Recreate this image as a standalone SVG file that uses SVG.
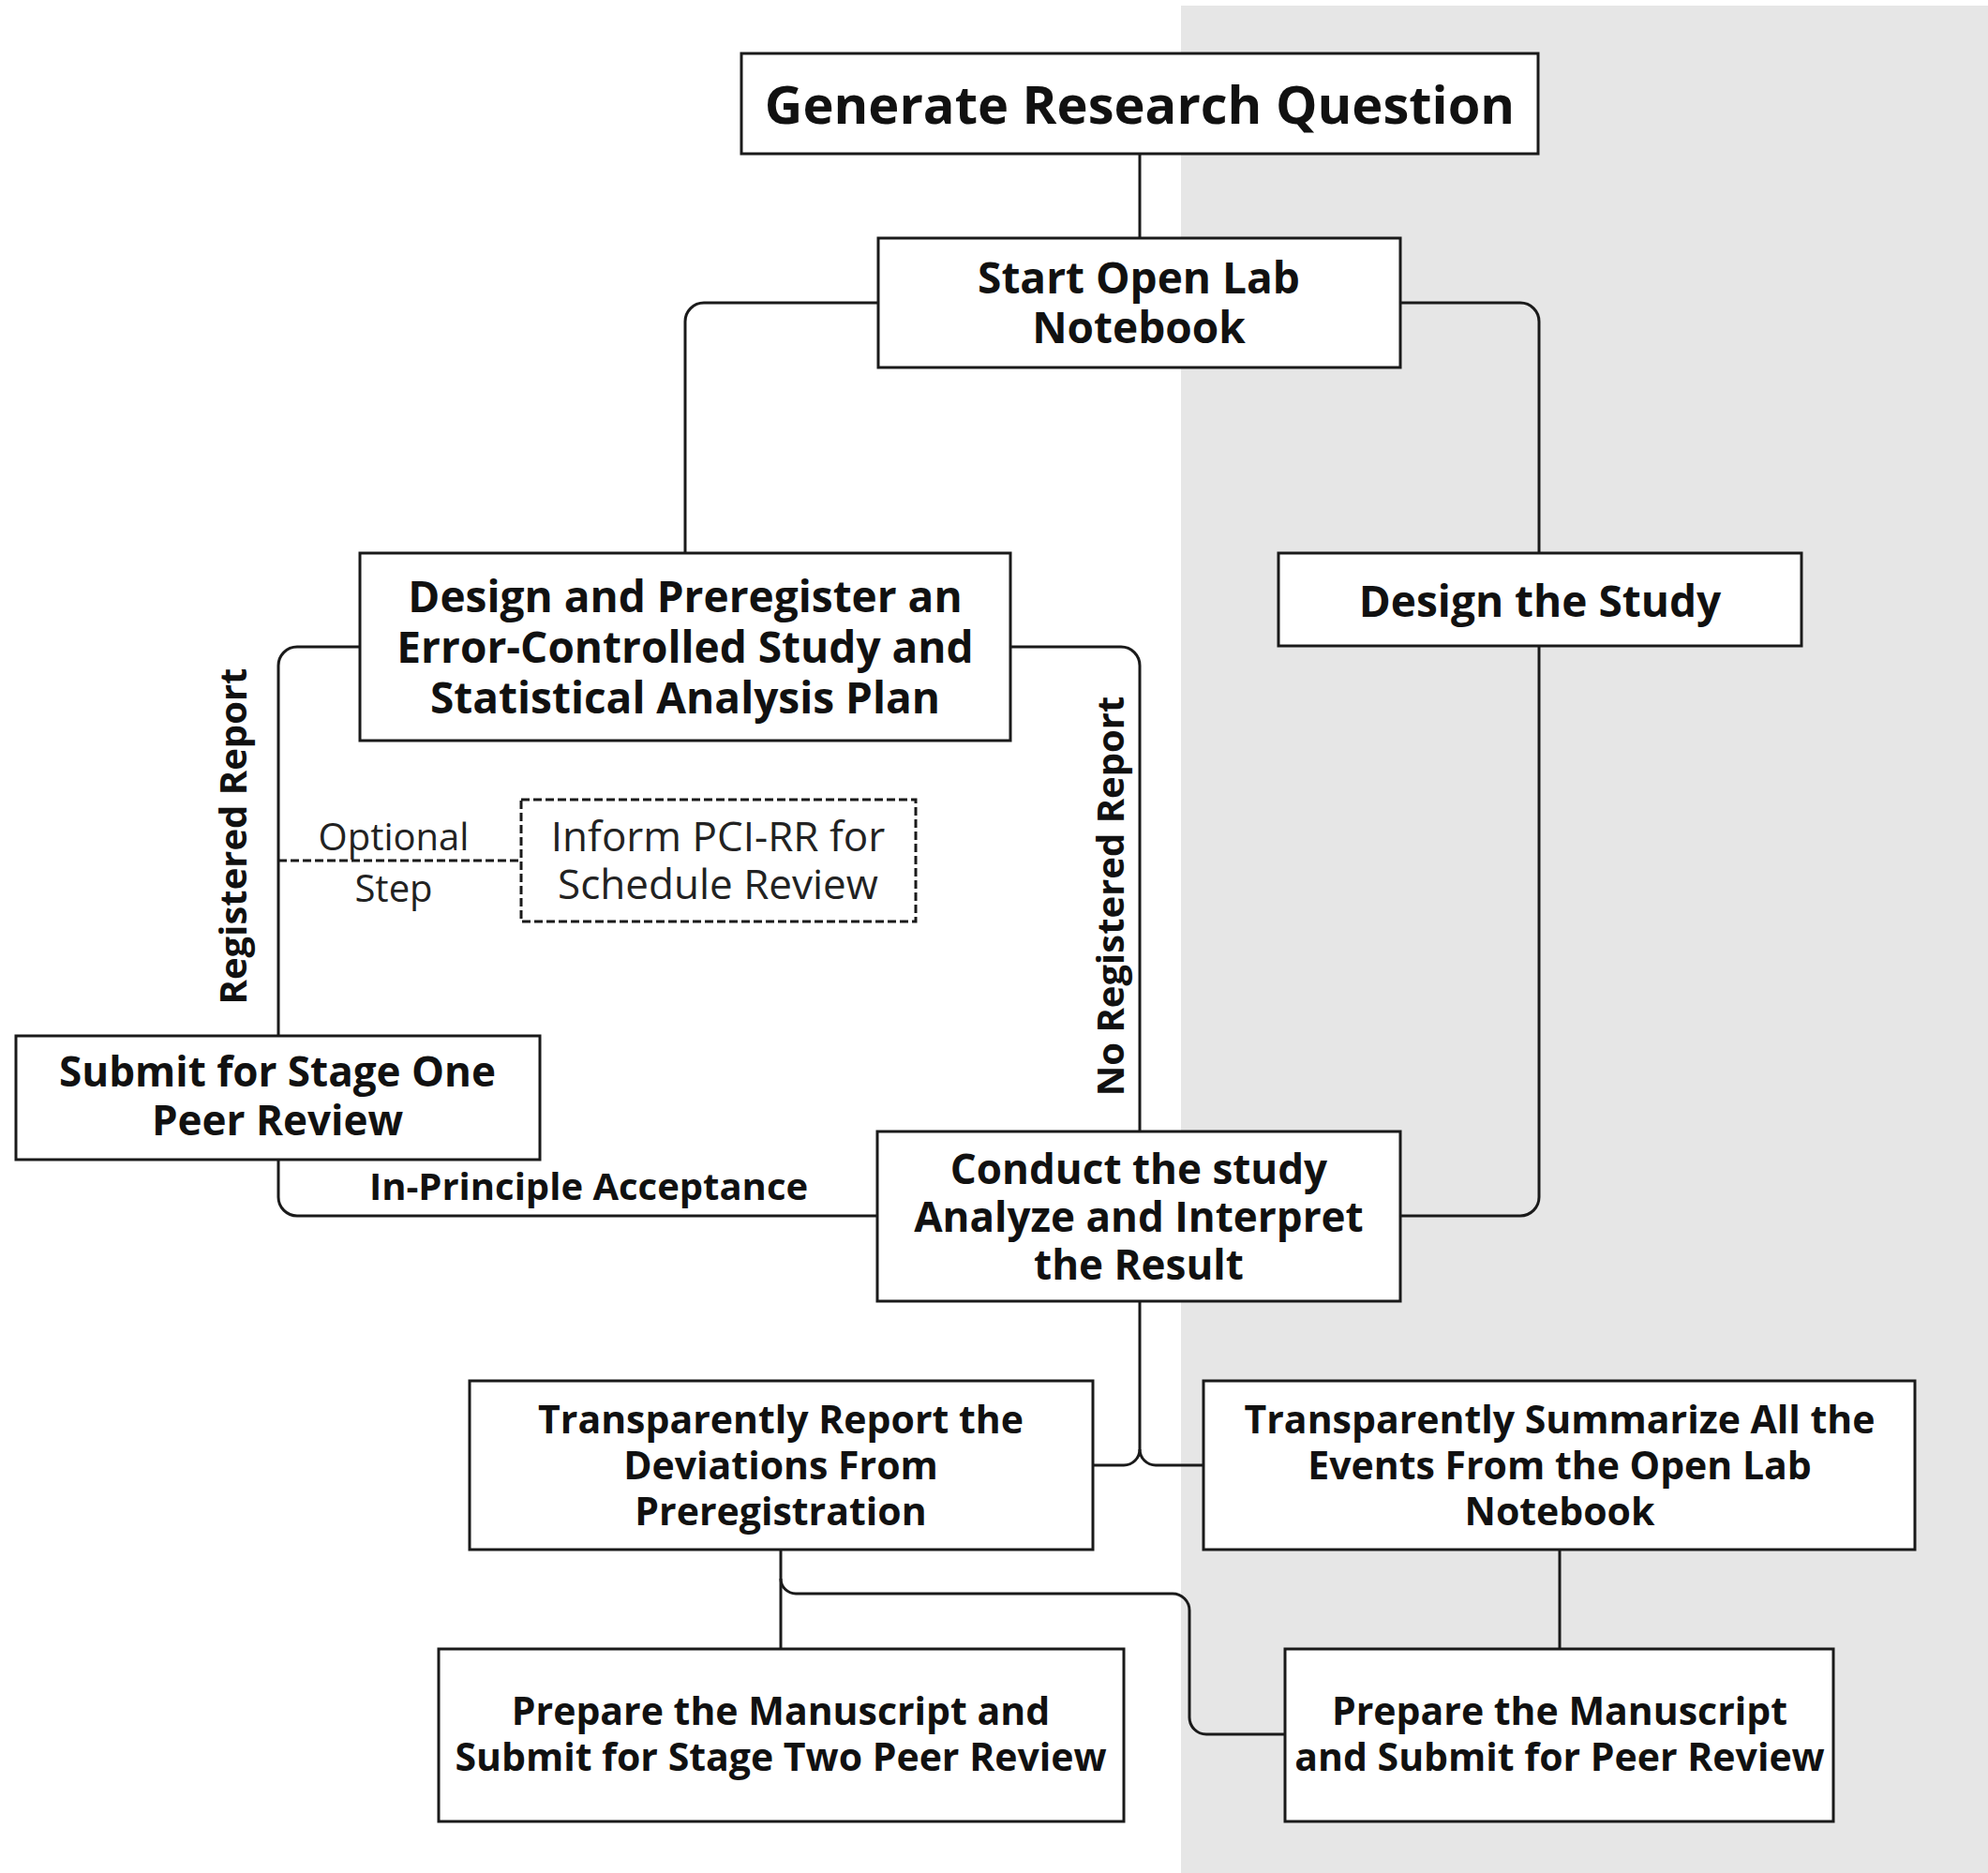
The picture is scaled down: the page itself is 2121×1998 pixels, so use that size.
<svg xmlns="http://www.w3.org/2000/svg" width="2121" height="1998" viewBox="0 0 2121 1998">
<style>
.box{fill:#fff;stroke:#1a1a1a;stroke-width:3}
.dbox{fill:#fff;stroke:#1a1a1a;stroke-width:3;stroke-dasharray:9,4}
.c{fill:none;stroke:#1a1a1a;stroke-width:3}
.d{fill:none;stroke:#1a1a1a;stroke-width:3;stroke-dasharray:9,4}
.t{font-family:"Open Sans","Noto Sans","Liberation Sans",sans-serif;font-weight:700;fill:#111;text-anchor:middle}
.r{font-family:"Open Sans","Noto Sans","Liberation Sans",sans-serif;font-weight:400;fill:#222;text-anchor:middle}
</style>
<rect x="0" y="0" width="2121" height="1998" fill="#fff"/>
<rect x="1260" y="6" width="861" height="1992" fill="#e6e6e6"/>
<g id="connectors">
<path class="c" d="M1216,164 V254"/>
<path class="c" d="M937,323 H751 A20,20 0 0 0 731,343 V590"/>
<path class="c" d="M1494,323 H1622 A20,20 0 0 1 1642,343 V590"/>
<path class="c" d="M1642,689 V1277 A20,20 0 0 1 1622,1297 H1494"/>
<path class="c" d="M384,690 H317 A20,20 0 0 0 297,710 V1105"/>
<path class="c" d="M1078,690 H1196 A20,20 0 0 1 1216,710 V1207"/>
<path class="c" d="M297,1237 V1277 A20,20 0 0 0 317,1297 H936"/>
<path class="d" d="M297,918 H556"/>
<path class="c" d="M1216,1388 V1546 A17,17 0 0 1 1199,1563 H1166"/>
<path class="c" d="M1216,1546 A17,17 0 0 0 1233,1563 H1284"/>
<path class="c" d="M833,1653 V1759"/>
<path class="c" d="M833,1684 A16,16 0 0 0 849,1700 H1251 A18,18 0 0 1 1269,1718 V1832 A18,18 0 0 0 1287,1850 H1371"/>
<path class="c" d="M1664,1653 V1759"/>
<text class="t" font-size="40" transform="translate(263,892) rotate(-90)">Registered Report</text>
<text class="t" font-size="40" transform="translate(1199,956) rotate(-90)">No Registered Report</text>
<text class="t" font-size="40" x="628" y="1280">In-Principle Acceptance</text>
<text class="r" font-size="40" x="420" y="907">Optional</text>
<text class="r" font-size="40" x="420" y="962">Step</text>
</g>
<g id="n-grq">
<rect class="box" x="791" y="57" width="850" height="107"/>
<text class="t" font-size="56" x="1216" y="132">Generate Research Question</text>
</g>
<g id="n-soln">
<rect class="box" x="937" y="254" width="557" height="138"/>
<text class="t" font-size="46" x="1215" y="313">Start Open Lab</text>
<text class="t" font-size="46" x="1215" y="366">Notebook</text>
</g>
<g id="n-dts">
<rect class="box" x="1364" y="590" width="558" height="99"/>
<text class="t" font-size="46" x="1643" y="658">Design the Study</text>
</g>
<g id="n-dp">
<rect class="box" x="384" y="590" width="694" height="200"/>
<text class="t" font-size="46" x="731" y="653">Design and Preregister an</text>
<text class="t" font-size="46" x="731" y="707">Error-Controlled Study and</text>
<text class="t" font-size="46" x="731" y="761">Statistical Analysis Plan</text>
</g>
<g id="n-inform">
<rect class="dbox" x="556" y="853" width="421" height="130"/>
<text class="r" font-size="44" x="766" y="908">Inform PCI-RR for</text>
<text class="r" font-size="44" x="766" y="959">Schedule Review</text>
</g>
<g id="n-submit1">
<rect class="box" x="17" y="1105" width="559" height="132"/>
<text class="t" font-size="44" x="296" y="1159">Submit for Stage One</text>
<text class="t" font-size="44" x="296" y="1211">Peer Review</text>
</g>
<g id="n-conduct">
<rect class="box" x="936" y="1207" width="558" height="181"/>
<text class="t" font-size="44" x="1215" y="1263">Conduct the study</text>
<text class="t" font-size="44" x="1215" y="1314">Analyze and Interpret</text>
<text class="t" font-size="44" x="1215" y="1365">the Result</text>
</g>
<g id="n-tr">
<rect class="box" x="501" y="1473" width="665" height="180"/>
<text class="t" font-size="41" x="833" y="1529">Transparently Report the</text>
<text class="t" font-size="41" x="833" y="1578">Deviations From</text>
<text class="t" font-size="41" x="833" y="1627">Preregistration</text>
</g>
<g id="n-ts">
<rect class="box" x="1284" y="1473" width="759" height="180"/>
<text class="t" font-size="41" x="1664" y="1529">Transparently Summarize All the</text>
<text class="t" font-size="41" x="1664" y="1578">Events From the Open Lab</text>
<text class="t" font-size="41" x="1664" y="1627">Notebook</text>
</g>
<g id="n-ps2">
<rect class="box" x="468" y="1759" width="731" height="184"/>
<text class="t" font-size="41" x="833" y="1840">Prepare the Manuscript and</text>
<text class="t" font-size="41" x="833" y="1889">Submit for Stage Two Peer Review</text>
</g>
<g id="n-psp">
<rect class="box" x="1371" y="1759" width="585" height="184"/>
<text class="t" font-size="41" x="1664" y="1840">Prepare the Manuscript</text>
<text class="t" font-size="41" x="1664" y="1889">and Submit for Peer Review</text>
</g>
</svg>
